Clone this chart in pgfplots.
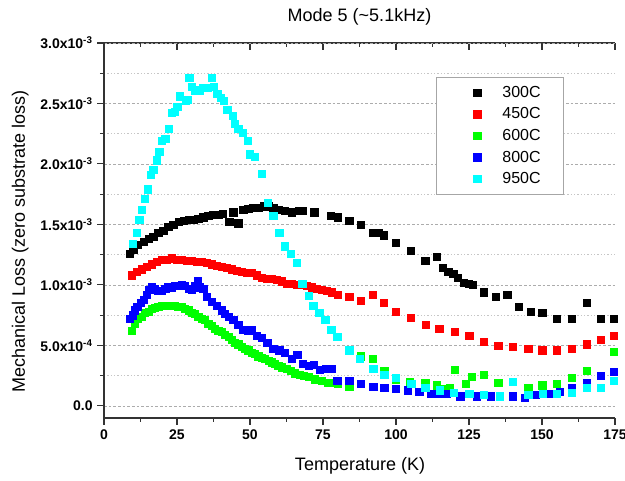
\documentclass[border=0pt]{standalone}
\usepackage{fontspec}
\setmainfont{Liberation Sans}
\usepackage{pgfplots}
\pgfplotsset{compat=1.18}
\definecolor{cgreen}{RGB}{0,255,0}
\definecolor{cblue}{RGB}{0,0,255}
\definecolor{ccyan}{RGB}{0,255,255}
\definecolor{cred}{RGB}{255,0,0}
\pgfplotsset{sqleg/.style={legend image code/.code={\path (-30.3pt,0pt) (16.5pt,0pt); \draw[##1] plot coordinates {(0pt,0pt)};}}}
\begin{document}
\begin{tikzpicture}
\pgfplotsset{
  common/.style={
    scale only axis,
    width=383.25pt, height=281.25pt,
    xmin=0, xmax=175, ymin=-0.1, ymax=3.0,
  }
}
% top axis with inward ticks
\begin{axis}[common,
  axis x line=top, axis y line=none,
  x axis line style={-, line width=1pt, black!80},
  xtick={0,25,...,175}, minor x tick num=1,
  xticklabels={}, ytick=\empty,
  tick align=inside,
  major tick length=5pt, minor tick length=3pt,
  tick style={line width=0.8pt, black!80},
]
\end{axis}
\begin{axis}[common,
  axis x line=bottom, axis y line=left,
  x axis line style={-, line width=1pt, black!80},
  y axis line style={-, line width=1pt, black!80},
  xtick={0,25,...,175}, minor x tick num=1,
  xticklabels={0,25,50,75,100,125,150,175},
  ytick={0,0.5,...,3.0}, minor y tick num=1,
  yticklabels={0.0, 5.0x10\textsuperscript{-4}, 1.0x10\textsuperscript{-3}, 1.5x10\textsuperscript{-3}, 2.0x10\textsuperscript{-3}, 2.5x10\textsuperscript{-3}, 3.0x10\textsuperscript{-3}},
  tick align=outside,
  major tick length=5pt, minor tick length=3pt,
  tick style={line width=0.8pt, black!80},
  ticklabel style={font=\bfseries\fontsize{10.5}{12}\selectfont},
  ymajorgrids, yminorgrids,
  major grid style={dash pattern=on 2pt off 1.5pt, gray!65, line width=0.5pt},
  minor grid style={dash pattern=on 1pt off 1.5pt, gray!45, line width=0.5pt},
  title={Mode 5 (\textasciitilde 5.1kHz)},
  title style={at={(axis description cs:0.5,1.069)}, anchor=center, yshift=-6pt, font=\fontsize{13.5}{15}\selectfont},
  xlabel={Temperature (K)},
  xlabel style={at={(axis description cs:0.501,-0.128)}, anchor=center, font=\fontsize{13.5}{15}\selectfont},
  ylabel={Mechanical Loss (zero substrate loss)},
  ylabel style={at={(axis description cs:-0.164,0.47)}, anchor=center, rotate=0, font=\fontsize{13.5}{15}\selectfont},
  legend style={at={(axis description cs:0.65,0.909)}, anchor=north west,
    draw=gray!70, line width=0.6pt, inner xsep=0pt, inner ysep=4.5pt,
    font=\fontsize{12}{14}\selectfont, row sep=2.3pt, cells={anchor=west}},
  every axis plot/.append style={mark=square*, mark size=2.7pt},
]
\addplot[only marks, sqleg, black, mark options={fill=black}] coordinates {
(8.9,1.26)(10.0,1.29)(11.7,1.33)(13.5,1.36)(15.2,1.38)(16.9,1.40)(18.6,1.43)(20.3,1.45)
(22.0,1.48)(23.7,1.50)(25.5,1.52)(27.2,1.53)(28.9,1.54)(30.6,1.54)(32.3,1.55)(34.0,1.56)
(35.7,1.57)(37.4,1.58)(39.1,1.58)(40.8,1.59)(42.9,1.52)(44.3,1.60)(46.0,1.51)(47.7,1.62)
(49.4,1.63)(51.1,1.64)(52.8,1.64)(54.6,1.65)(56.3,1.65)(58.0,1.64)(59.7,1.62)(62.0,1.61)
(64.3,1.60)(66.6,1.61)(68.1,1.61)(72.0,1.60)(77.7,1.57)(80.0,1.56)(84.0,1.53)(88.0,1.50)
(92.2,1.43)(93.9,1.43)(95.9,1.41)(100.0,1.35)(105.1,1.28)(110.0,1.20)(113.9,1.23)(116.0,1.14)
(117.9,1.11)(119.6,1.09)(121.1,1.06)(123.1,1.02)(124.8,1.01)(126.3,1.00)(130.1,0.94)(134.2,0.90)
(138.1,0.92)(142.1,0.82)(146.1,0.78)(150.1,0.77)(155.0,0.72)(160.2,0.72)(165.3,0.85)(170.2,0.72)
(174.7,0.72)
};
\addlegendentry{300C\hspace*{15.25pt}}
\addplot[only marks, sqleg, cred, mark options={fill=cred}] coordinates {
(9.5,1.08)(11.2,1.11)(12.9,1.13)(14.6,1.15)(16.3,1.17)(18.0,1.19)(19.8,1.21)(21.5,1.21)
(23.2,1.22)(24.9,1.21)(26.6,1.21)(28.3,1.20)(30.0,1.20)(31.7,1.19)(33.5,1.19)(35.2,1.18)
(36.9,1.17)(38.6,1.16)(40.3,1.15)(42.0,1.14)(43.7,1.13)(45.5,1.12)(47.2,1.11)(48.9,1.10)
(50.6,1.10)(52.3,1.08)(54.0,1.06)(55.7,1.05)(57.4,1.05)(59.1,1.04)(60.8,1.03)(62.6,1.01)
(64.3,1.01)(66.0,1.00)(67.7,1.00)(69.4,0.99)(71.1,0.98)(72.8,0.97)(74.5,0.96)(76.3,0.95)
(78.0,0.94)(80.0,0.92)(84.0,0.90)(88.0,0.87)(92.0,0.92)(95.9,0.85)(100.0,0.78)(105.1,0.73)
(110.2,0.67)(114.8,0.64)(120.2,0.61)(125.1,0.58)(130.1,0.53)(135.0,0.50)(140.0,0.49)(145.3,0.47)
(150.1,0.46)(155.0,0.46)(160.2,0.47)(165.3,0.51)(170.1,0.55)(174.7,0.58)
};
\addlegendentry{450C\hspace*{15.25pt}}
\addplot[only marks, sqleg, cgreen, mark options={fill=cgreen}] coordinates {
(9.5,0.62)(10.6,0.68)(11.7,0.72)(12.9,0.74)(14.0,0.77)(15.2,0.78)(16.3,0.80)(17.5,0.81)
(18.6,0.82)(19.8,0.83)(20.9,0.83)(22.0,0.83)(23.2,0.83)(24.3,0.83)(25.4,0.82)(26.6,0.82)
(27.7,0.80)(28.9,0.79)(30.0,0.77)(31.2,0.76)(32.3,0.74)(33.5,0.72)(34.6,0.71)(35.7,0.68)
(36.9,0.66)(38.0,0.64)(39.1,0.62)(40.3,0.61)(41.4,0.59)(42.6,0.57)(43.7,0.55)(44.9,0.52)
(46.0,0.51)(47.2,0.49)(48.3,0.47)(49.4,0.46)(50.6,0.44)(51.7,0.43)(52.8,0.41)(54.0,0.40)
(55.1,0.39)(56.3,0.37)(57.4,0.36)(58.6,0.35)(59.7,0.33)(61.0,0.32)(62.6,0.31)(64.0,0.29)
(65.4,0.27)(67.0,0.26)(68.5,0.25)(70.0,0.24)(72.3,0.22)(74.6,0.21)(76.8,0.19)(78.0,0.19)
(80.0,0.18)(84.0,0.16)(88.0,0.41)(92.0,0.39)(96.0,0.29)(100.0,0.22)(104.8,0.20)(110.0,0.19)
(113.9,0.17)(116.8,0.14)(118.5,0.15)(120.2,0.30)(124.0,0.18)(125.9,0.24)(130.1,0.26)(135.0,0.19)
(140.0,0.20)(145.3,0.15)(150.1,0.17)(155.0,0.18)(160.2,0.23)(165.3,0.29)(174.7,0.45)
};
\addlegendentry{600C\hspace*{15.25pt}}
\addplot[only marks, sqleg, cblue, mark options={fill=cblue}] coordinates {
(8.9,0.72)(9.8,0.75)(10.6,0.79)(11.4,0.82)(12.6,0.85)(13.5,0.88)(14.6,0.92)(15.5,0.96)
(16.3,0.98)(17.4,0.97)(18.6,0.95)(19.8,0.95)(21.0,0.97)(22.0,0.98)(23.2,0.98)(24.3,0.99)
(25.5,0.99)(26.6,1.00)(27.7,0.99)(28.9,0.97)(30.0,0.96)(31.2,0.99)(32.0,1.03)(32.9,0.98)
(34.0,0.97)(35.2,0.90)(36.9,0.86)(38.6,0.83)(40.3,0.79)(41.4,0.76)(42.6,0.74)(44.3,0.71)
(46.0,0.67)(47.7,0.63)(49.4,0.62)(50.6,0.63)(52.3,0.58)(54.0,0.56)(55.9,0.52)(58.0,0.47)
(60.0,0.46)(62.0,0.44)(64.3,0.39)(66.2,0.42)(68.1,0.35)(70.0,0.33)(71.9,0.34)(74.0,0.30)
(76.0,0.31)(78.0,0.31)(79.9,0.21)(84.0,0.21)(88.0,0.18)(92.2,0.16)(96.0,0.15)(100.0,0.14)
(103.9,0.13)(108.0,0.12)(111.9,0.10)(113.9,0.10)(116.2,0.10)(117.4,0.10)(122.0,0.08)(127.6,0.08)
(132.4,0.08)(140.0,0.08)(144.2,0.07)(148.0,0.09)(152.2,0.10)(156.2,0.12)(160.2,0.15)(165.2,0.19)
(170.1,0.25)(174.6,0.28)
};
\addlegendentry{800C\hspace*{15.25pt}}
\addplot[only marks, sqleg, ccyan, mark options={fill=ccyan}] coordinates {
(9.8,1.34)(11.2,1.43)(12.1,1.54)(12.9,1.62)(14.0,1.71)(15.0,1.79)(16.1,1.91)(16.9,1.95)
(18.0,2.03)(18.9,2.10)(19.9,2.19)(21.0,2.21)(22.2,2.29)(23.1,2.42)(24.2,2.43)(25.1,2.47)
(26.0,2.56)(27.9,2.52)(28.5,2.53)(29.2,2.71)(30.0,2.64)(31.2,2.61)(32.6,2.61)(34.0,2.63)
(35.4,2.63)(37.0,2.71)(37.7,2.64)(38.8,2.58)(40.0,2.55)(41.1,2.52)(42.2,2.45)(44.1,2.40)
(44.9,2.33)(46.0,2.29)(47.5,2.26)(49.1,2.19)(50.0,2.08)(51.7,2.06)(54.0,1.92)(56.0,1.68)
(58.0,1.57)(60.0,1.43)(62.0,1.32)(64.0,1.26)(66.0,1.18)(67.9,1.01)(70.0,0.91)(71.7,0.83)
(73.7,0.77)(75.8,0.71)(77.8,0.63)(79.9,0.57)(84.0,0.46)(87.7,0.39)(92.2,0.31)(96.0,0.26)
(100.0,0.23)(105.2,0.18)(110.0,0.15)(115.0,0.13)(119.9,0.11)(125.1,0.10)(130.1,0.09)(135.5,0.08)
(140.1,0.20)(145.3,0.09)(150.2,0.10)(155.0,0.10)(160.2,0.11)(165.3,0.15)(170.1,0.15)(174.6,0.21)
};
\addlegendentry{950C\hspace*{15.25pt}}
\coordinate (bbbl) at (rel axis cs:-0.20352,-0.168);
\coordinate (bbtr) at (rel axis cs:1.01957,1.11467);
\end{axis}
\pgfresetboundingbox
\path (bbbl) rectangle (bbtr);
\end{tikzpicture}
\end{document}
